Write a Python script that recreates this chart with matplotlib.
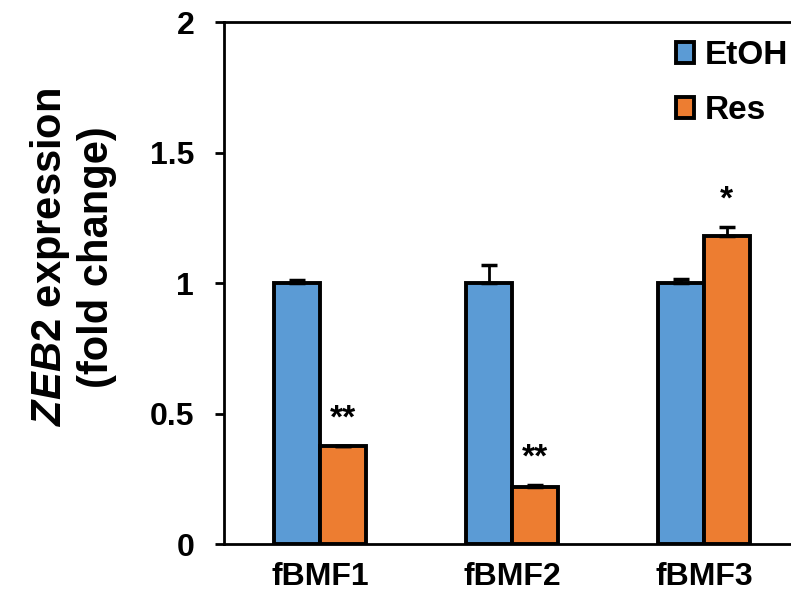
import numpy as np
import matplotlib
matplotlib.use("Agg")
import matplotlib.pyplot as plt

plt.rcParams['font.family'] = ['Liberation Sans', 'DejaVu Sans']
plt.rcParams['font.weight'] = 'bold'
plt.rcParams['mathtext.fontset'] = 'custom'
plt.rcParams['mathtext.it'] = 'Liberation Sans:italic:bold'
plt.rcParams['mathtext.rm'] = 'Liberation Sans:bold'

groups = ['fBMF1', 'fBMF2', 'fBMF3']
etoh = [1.0, 1.0, 1.0]
etoh_err = [0.01, 0.07, 0.015]
res = [0.375, 0.22, 1.18]
res_err = [0.0, 0.005, 0.035]
stars = ['**', '**', '*']
yticks = [0, 0.5, 1, 1.5, 2]
ytick_labels = ['0', '0.5', '1', '1.5', '2']

fig = plt.figure(figsize=(7.91, 6.03), dpi=100)
ax = fig.add_axes([0.2832, 0.0978, 0.728, 0.8657])

x = np.arange(len(groups))
w = 0.239
ekw = dict(elinewidth=2, capthick=2.5)
ax.bar(x - w/2, etoh, w, yerr=[np.zeros(3), etoh_err], capsize=6, color='#5B9BD5',
       edgecolor='black', linewidth=2.8, label='EtOH', error_kw=ekw)
ax.bar(x + w/2, res, w, yerr=[np.zeros(3), res_err], capsize=6, color='#ED7D31',
       edgecolor='black', linewidth=2.8, label='Res', error_kw=ekw)

for i in range(len(groups)):
    ax.text(x[i] + w/2, res[i] + res_err[i] + 0.045, stars[i], ha='center', va='bottom',
            fontsize=24, fontweight='bold')

ax.set_xlim(-0.5, 2.5)
ax.set_ylim(0, 2)
ax.set_xticks(x)
ax.set_xticklabels(groups, fontsize=23, fontweight='bold')
ax.set_yticks(yticks)
ax.set_yticklabels(ytick_labels, fontsize=23, fontweight='bold')
ax.tick_params(axis='x', length=0, pad=13)
ax.tick_params(axis='y', length=6.5, width=2, direction='out', pad=15)
for s in ['left', 'top', 'bottom', 'right']:
    ax.spines[s].set_linewidth(2)

ax.set_ylabel('$\\mathit{ZEB2}$ expression\n(fold change)', fontsize=30, fontweight='bold',
              linespacing=1.15)
ax.yaxis.set_label_coords(-0.186, 0.55)

ax.legend(loc='upper left', bbox_to_anchor=(676/791, 1 - 40/603), bbox_transform=fig.transFigure,
          frameon=False, fontsize=24, handlelength=0.55, handleheight=0.6, handletextpad=0.3,
          labelspacing=0.72, borderpad=0, borderaxespad=0)

fig.savefig('out.png', dpi=100)
